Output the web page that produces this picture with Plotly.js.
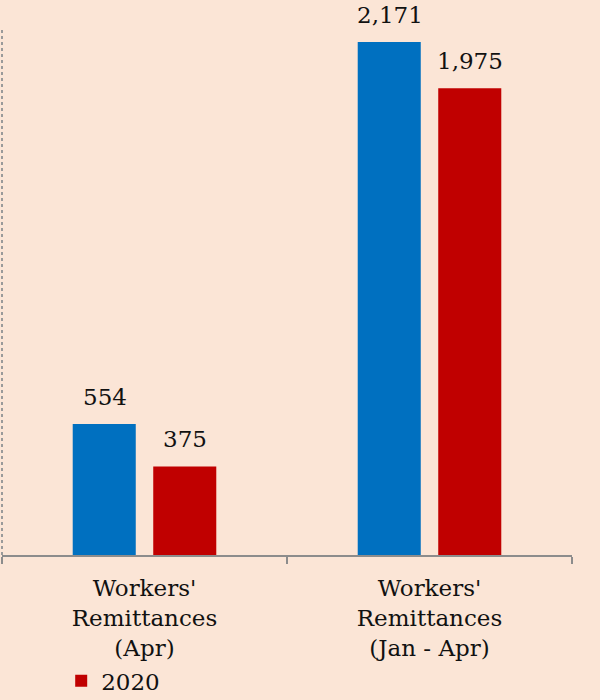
<!DOCTYPE html>
<html>
<head>
<meta charset="utf-8">
<script src="https://cdn.plot.ly/plotly-3.0.1.min.js"></script>
<style>html,body{margin:0;padding:0;background:#FBE5D6;}#chart{width:600px;height:700px;}</style>
</head>
<body>
<div id="chart"></div>
<script>
const categories = ["Workers'<br>Remittances<br>(Apr)", "Workers'<br>Remittances<br>(Jan - Apr)"];
const seriesNames = ["2019", "2020"];
const values2019 = [554, 2171];
const values2020 = [375, 1975];

const colors = ["#0070C0", "#C00000"];
const fontFam = "DejaVu Serif, Liberation Serif, serif";
const txtColor = '#111111';

const traces = [
  {type: 'bar', name: seriesNames[0], x: categories, y: values2019, marker: {color: colors[0]}, showlegend: false, hoverinfo: 'skip'},
  {type: 'bar', name: seriesNames[1], x: categories, y: values2020, marker: {color: colors[1]}, showlegend: true, hoverinfo: 'skip'}
];

const fmt = v => v.toLocaleString('en-US');
const annotations = [];
[values2019, values2020].forEach((vals, si) => {
  vals.forEach((v, ci) => {
    annotations.push({
      x: categories[ci], y: v, xref: 'x', yref: 'y',
      text: fmt(v), showarrow: false,
      xanchor: 'center', yanchor: 'bottom',
      xshift: si === 0 ? -40 : 40, yshift: 12,
      font: {family: fontFam, size: 23, color: txtColor}
    });
  });
});

const layout = {
  width: 600, height: 700,
  paper_bgcolor: '#FBE5D6', plot_bgcolor: '#FBE5D6',
  margin: {l: 2, r: 28, t: 28, b: 145, autoexpand: false},
  barmode: 'group', bargap: 0.435, bargroupgap: 0.217,
  font: {family: fontFam, size: 23, color: txtColor},
  xaxis: {
    type: 'category', range: [-0.5, 1.5], automargin: false,
    showline: true, linecolor: '#8c8c8c', linewidth: 1.5,
    ticks: 'outside', tickson: 'boundaries', ticklen: 7, tickcolor: '#8c8c8c', tickwidth: 1.5,
    ticklabelstandoff: 12,
    tickfont: {family: fontFam, size: 23, color: txtColor},
    showgrid: false, zeroline: false, fixedrange: true
  },
  yaxis: {
    range: [0, 2230], visible: false, showgrid: false, zeroline: false, fixedrange: true
  },
  shapes: [
    {type: 'line', xref: 'paper', yref: 'paper', x0: 0, x1: 0, y0: 0, y1: 1,
     line: {color: '#9a9a9a', width: 2, dash: 'dot'}}
  ],
  annotations: annotations,
  showlegend: true,
  legend: {
    orientation: 'h', xref: 'container', yref: 'container',
    x: 0.102, xanchor: 'left', y: 0.058, yanchor: 'top',
    bgcolor: 'rgba(0,0,0,0)', font: {family: fontFam, size: 23, color: txtColor}
  }
};

Plotly.newPlot('chart', traces, layout, {displayModeBar: false, staticPlot: true});
</script>
</body>
</html>
